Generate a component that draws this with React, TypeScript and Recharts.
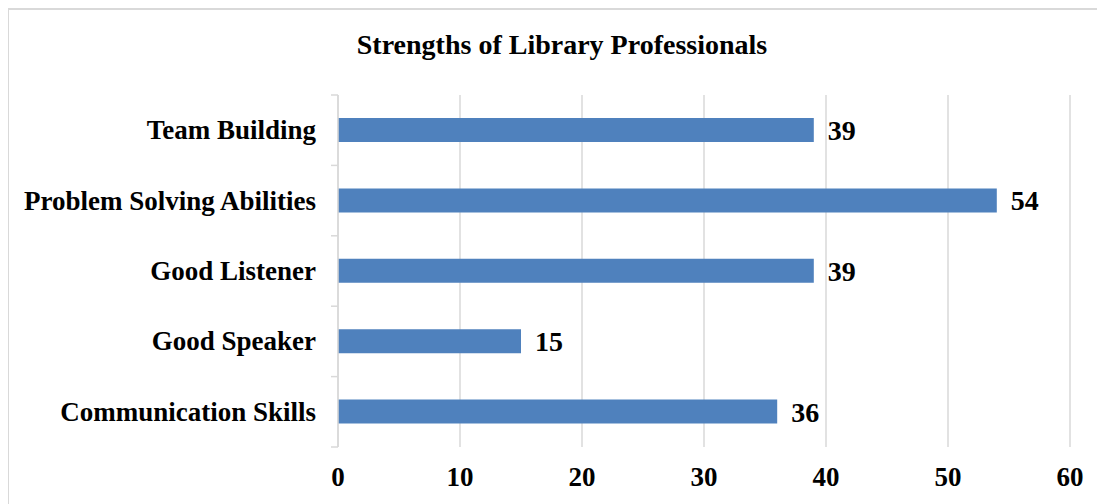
import { BarChart, Bar, XAxis, YAxis, CartesianGrid, LabelList } from 'recharts';

const categories = ['Team Building', 'Problem Solving Abilities', 'Good Listener', 'Good Speaker', 'Communication Skills'];
const counts = [39, 54, 39, 15, 36];
const xTicks = [0, 10, 20, 30, 40, 50, 60];

const data = categories.map((name, i) => ({ name, value: counts[i] }));

const FONT = '"Liberation Serif", "Times New Roman", serif';
const GRID = '#d9d9d9';
const PLOT_TOP = 85;
const PLOT_H = 352;
const BAND = PLOT_H / categories.length;

const CategoryTick = (props: any) => {
  const { x, y, payload, index } = props;
  const axisX = x;
  return (
    <g>
      <line x1={axisX - 7} x2={axisX} y1={y - BAND / 2} y2={y - BAND / 2} stroke={GRID} strokeWidth={1.5} />
      {index === categories.length - 1 && (
        <line x1={axisX - 7} x2={axisX} y1={y + BAND / 2} y2={y + BAND / 2} stroke={GRID} strokeWidth={1.5} />
      )}
      <text x={axisX - 22} y={y} textAnchor="end" dominantBaseline="central" fontFamily={FONT} fontWeight="bold" fontSize={27} fill="#000">
        {payload.value}
      </text>
    </g>
  );
};

export default function App() {
  return (
    <div style={{ position: 'relative', width: 1110, height: 510, border: `2px solid ${GRID}`, marginLeft: -1, background: '#fff' }}>
      <div
        style={{
          position: 'absolute', top: 19, left: 0, width: 1106, textAlign: 'center',
          fontFamily: FONT, fontWeight: 'bold', fontSize: 28, color: '#000',
        }}
      >
        Strengths of Library Professionals
      </div>
      <BarChart
        layout="vertical"
        width={1100}
        height={500}
        data={data}
        margin={{ top: PLOT_TOP, right: 39, bottom: 33, left: 0 }}
        barSize={24}
      >
        <CartesianGrid horizontal={false} stroke={GRID} strokeWidth={1.5} />
        <XAxis
          type="number"
          domain={[0, 60]}
          ticks={xTicks}
          axisLine={false}
          tickLine={false}
          tickSize={0}
          tickMargin={20}
          height={30}
          interval={0}
          tick={{ fontFamily: FONT, fontWeight: 'bold', fontSize: 27, fill: '#000' }}
        />
        <YAxis
          type="category"
          dataKey="name"
          width={329}
          axisLine={{ stroke: GRID, strokeWidth: 1.5 }}
          tickLine={false}
          tickSize={0}
          tickMargin={0}
          interval={0}
          tick={<CategoryTick />}
        />
        <Bar dataKey="value" fill="#4f81bd" isAnimationActive={false}>
          <LabelList dataKey="value" position="right" offset={14} fontFamily={FONT} fontWeight="bold" fontSize={28} fill="#000" />
        </Bar>
      </BarChart>
    </div>
  );
}
